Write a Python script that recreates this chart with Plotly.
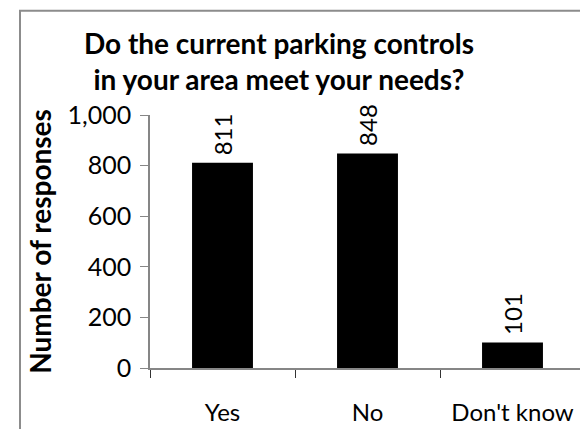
import plotly.graph_objects as go

categories = ["Yes", "No", "Don't know"]
responses = [811, 848, 101]
y_ticks = [0, 200, 400, 600, 800, 1000]
y_tick_labels = ["0", "200", "400", "600", "800", "1,000"]

title_text = "Do the current parking controls<br>in your area meet your needs?"
y_title = "Number of responses"

FONT = "Lato"
GRAY = "#868686"

# The page body has an 8px margin, so the figure is sized/positioned to compensate.
W, H = 580, 421
L, R, T, B = 142, 3, 107, 57
plot_w = W - L - R
plot_h = H - T - B

fig = go.Figure(
    go.Bar(
        x=categories,
        y=responses,
        marker=dict(color="black", line=dict(width=0)),
        width=0.42,
        hoverinfo="x+y",
    )
)

for c, v in zip(categories, responses):
    fig.add_annotation(
        x=c, y=v, text=str(v), textangle=-90,
        showarrow=False, xanchor="center", yanchor="bottom", yshift=5,
        font=dict(family=FONT, size=24, color="black"),
    )

fig.update_layout(
    width=W,
    height=H,
    margin=dict(l=L, r=R, t=T, b=B),
    paper_bgcolor="white",
    plot_bgcolor="white",
    showlegend=False,
    title=dict(
        text=title_text,
        x=271 / W,
        xanchor="center",
        xref="container",
        y=1 - 46 / H,
        yanchor="middle",
        font=dict(family=FONT, size=28, color="black", weight="bold"),
    ),
    font=dict(family=FONT, color="black"),
)

fig.update_xaxes(
    type="category",
    range=[-0.5, 2.5],
    showline=True,
    linecolor=GRAY,
    linewidth=1.5,
    ticks="outside",
    tickson="boundaries",
    ticklen=8,
    tickcolor="#333333",
    tickwidth=1,
    showgrid=False,
    tickfont=dict(family=FONT, size=24, color="black"),
    ticklabelstandoff=22,
)

fig.update_yaxes(
    range=[0, 1000],
    tickvals=y_ticks,
    ticktext=y_tick_labels,
    showline=True,
    linecolor=GRAY,
    linewidth=1.5,
    ticks="outside",
    ticklen=8,
    tickcolor=GRAY,
    tickwidth=1,
    showgrid=False,
    zeroline=False,
    tickfont=dict(family=FONT, size=25, color="black"),
    ticklabelstandoff=4,
    title=dict(text=y_title, font=dict(family=FONT, size=28, color="black", weight="bold"), standoff=8),
)

# chart outer frame (partly off-canvas as in the reference)
fig.add_shape(
    type="rect",
    xref="paper", yref="paper",
    x0=(12 - L) / plot_w, x1=1.5,
    y0=-1.0, y1=(T + plot_h - 1) / plot_h,
    line=dict(color="#8c8c8c", width=2),
    fillcolor="rgba(0,0,0,0)",
    layer="below",
)

fig.write_html("out.html")
